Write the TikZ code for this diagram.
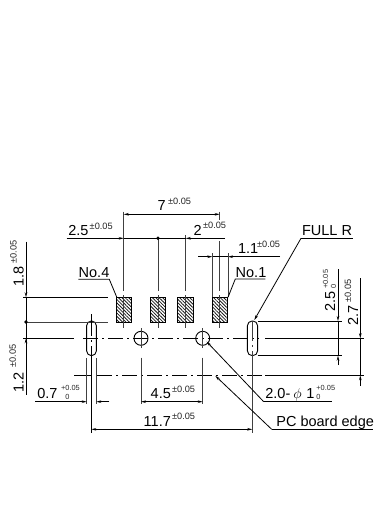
\documentclass[tikz,border=0pt]{standalone}
\usepackage{fontspec}
\setmainfont{Liberation Sans}
\usetikzlibrary{arrows.meta,patterns.meta}
\tikzset{
  every path/.style={line width=0.8pt},
  dimline/.style={draw=black,{Stealth[length=5pt,width=2.6pt]}-{Stealth[length=5pt,width=2.6pt]}},
  tipend/.style={draw=black,-{Stealth[length=5pt,width=2.6pt]}},
  thin line/.style={draw=black!75},
  centerline/.style={draw=black,dash pattern=on 15pt off 4pt on 2pt off 4pt},
  main/.style={inner sep=0pt,anchor=base west,font=\fontsize{14.5}{14.5}\selectfont},
  sup/.style={inner sep=0pt,anchor=base west,font=\fontsize{9.2}{9.2}\selectfont,text=black!85},
  stack/.style={inner sep=0pt,anchor=base west,font=\fontsize{7.4}{7.4}\selectfont,text=black!85},
  rmain/.style={inner sep=0pt,anchor=base west,rotate=90,font=\fontsize{14.5}{14.5}\selectfont},
  rsup/.style={inner sep=0pt,anchor=base west,rotate=90,font=\fontsize{9.2}{9.2}\selectfont,text=black!85},
  rstack/.style={inner sep=0pt,anchor=base west,rotate=90,font=\fontsize{7.4}{7.4}\selectfont,text=black!85},
  pad/.style={draw=black,pattern={Lines[angle=-45,distance=2.4pt,line width=0.8pt]},pattern color=black!90,minimum width=15.4pt,minimum height=25.4pt,inner sep=0pt},
  slot/.style={draw=black,line width=0.9pt,rounded corners=4.8pt,fill=white,minimum height=34.7pt,inner sep=0pt},
  hole/.style={draw=black,line width=0.9pt,circle,minimum size=14pt,inner sep=0pt},
}
\begin{document}
\begin{tikzpicture}[x=1pt,y=-1pt]
\useasboundingbox[fill=white] (0,0) rectangle (376,522);
% pads
\node[pad] (p4) at (124,310) {};
\node[pad] (p3) at (158,310) {};
\node[pad] (p2) at (185.4,310) {};
\node[pad] (p1) at (220,310) {};
% slots and holes
\node[slot,minimum width=9.8pt] (sl) at (91.5,338.3) {};
\node[slot,minimum width=10.2pt] (sr) at (252.5,338.3) {};
\node[hole] (hl) at (141,338.3) {};
\node[hole] (hr) at (202.7,338.3) {};
% pad centre lines
\draw[thin line] (123.7,211.5) -- (123.7,291) (123.7,295) -- (123.7,328);
\draw[thin line] (158,238.3) -- (158,291) (158,295) -- (158,328);
\draw[thin line] (185.7,235) -- (185.7,291) (185.7,295) -- (185.7,328);
\draw[thin line] (219.7,211.5) -- (219.7,220) (219.7,241) -- (219.7,291) (219.7,295) -- (219.7,328);
% top dimensions
\draw[dimline] (123.7,214.3) -- (219.7,214.3);
\draw[tipend] (66.7,238.3) -- (123.7,238.3);
\draw[black] (123.7,238.3) -- (185.7,238.3);
\draw[tipend] (225,238.3) -- (185.7,238.3);
\fill (158,238.3) circle (1.9pt);
\draw[tipend] (198.3,256.7) -- (212.3,256.7);
\draw[tipend] (280,256.7) -- (228,256.7);
\draw[black] (212.3,256.7) -- (228,256.7);
\draw[thin line] (212.3,253) -- (212.3,297) (228,253) -- (228,297);
% left dimensions
\draw[tipend] (26,241.7) -- (26,297.3);
\draw[black] (26,297.3) -- (26,322);
\draw[black] (23,297.3) -- (107.7,297.3);
\draw[thin line] (26,322) -- (108,322);
\fill (26,322) circle (1.9pt);
\draw[black] (26,322) -- (26,395);
\draw[tipend] (26,360) -- (26,338.3);
% centre lines
\draw[black] (23,338.3) -- (74,338.3);
\draw[centerline] (83,338.3) -- (259,338.3);
\draw[black] (265,338.3) -- (364,338.3);
\draw[black] (74,375.3) -- (92,375.3);
\draw[centerline] (97,375.3) -- (262,375.3);
\draw[black] (265,375.3) -- (364,375.3);
\draw[black,dash pattern=on 22pt off 4pt on 2pt off 4pt] (91.3,314.3) -- (91.3,358);
\draw[black] (91.3,358) -- (91.3,433);
\draw[thin line,dash pattern=on 20pt off 4pt on 2pt off 4pt] (252.3,321) -- (252.3,358);
\draw[thin line] (252.3,358) -- (252.3,433);
\draw[thin line] (141,328) -- (141,348) (141,357.7) -- (141,404);
\draw[thin line] (202.7,328) -- (202.7,348) (202.7,357.7) -- (202.7,404);
% bottom dimensions
\draw[thin line] (86.7,358) -- (86.7,404) (96.3,358) -- (96.3,404);
\draw[tipend] (35,401.7) -- (86.7,401.7);
\draw[tipend] (109.3,401.7) -- (96.3,401.7);
\draw[dimline] (141,401.7) -- (202.7,401.7);
\draw[dimline] (91.3,429.3) -- (252.3,429.3);
% right dimensions
\draw[black] (257.7,321) -- (342,321) (257.7,355.7) -- (342,355.7);
\draw[tipend] (338,269.3) -- (338,321);
\draw[black] (338,321) -- (338,355.7);
\draw[tipend] (338,365) -- (338,355.7);
\draw[tipend] (360.3,278) -- (360.3,338.3);
\draw[black] (360.3,338.3) -- (360.3,375.3);
\draw[tipend] (360.3,386) -- (360.3,375.3);
% leaders
\draw[black] (352.7,238.3) -- (301,238.3);
\draw[tipend] (301,238.3) -- (254.3,320);
\draw[black] (265.3,279) -- (235.3,279) -- (228,297.3);
\draw[black] (78.3,279.3) -- (109.3,279.3) -- (116.8,297.3);
\draw[black] (331.7,401.7) -- (263.7,401.7);
\draw[tipend] (263.7,401.7) -- (206.7,341.7);
\draw[black] (372.7,429.3) -- (271.7,429.3);
\draw[tipend] (271.7,429.3) -- (215.3,375.8);
% texts
\node[main] (t7) at (157.3,210.7) {7};
\node[sup] (t7s) at (167.7,204.7) {±0.05};
\node[main] (t25) at (68,235) {2.5};
\node[sup] (t25s) at (89.3,229) {±0.05};
\node[main] (t2) at (193.3,235) {2};
\node[sup] (t2s) at (202.7,228.7) {±0.05};
\node[main] (t11) at (237.7,253.3) {1.1};
\node[sup] (t11s) at (256.7,247.7) {±0.05};
\node[main] (tn4) at (78.3,277.7) {No.4};
\node[main] (tn1) at (235.3,277.7) {No.1};
\node[main] (tfr) at (301.7,235.7) {FULL R};
\node[main] (t07) at (37,398.3) {0.7};
\node[stack] (t07s) at (60.7,390.6) {+0.05};
\node[stack] (t07z) at (65,399) {0};
\node[main] (t45) at (150.3,398.3) {4.5};
\node[sup] (t45s) at (171.7,392) {±0.05};
\node[main] (t117) at (143.3,426.7) {11.7};
\node[sup] (t117s) at (171.7,419.3) {±0.05};
\node[main] (t20) at (265,398.3) {2.0-};
\node[main] (tphi) at (293,398.3) {$\phi$};
\node[main] (t1) at (306,398.3) {1};
\node[stack] (t1s) at (316,390.6) {+0.05};
\node[stack] (t1z) at (316,399) {0};
\node[main] (tpc) at (276,426.7) {PC board edge};
% rotated texts
\node[rmain] (r18) at (23.5,287) {1.8};
\node[rsup] (r18s) at (16.5,264) {±0.05};
\node[rmain] (r12) at (23.5,393) {1.2};
\node[rsup] (r12s) at (16,368) {±0.05};
\node[rmain] (r25) at (335,312) {2.5};
\node[rstack] (r25s) at (328,289) {+0.05};
\node[rstack] (r25z) at (336,289) {0};
\node[rmain] (r27) at (358,326) {2.7};
\node[rsup] (r27s) at (351,303) {±0.05};
\end{tikzpicture}
\end{document}
